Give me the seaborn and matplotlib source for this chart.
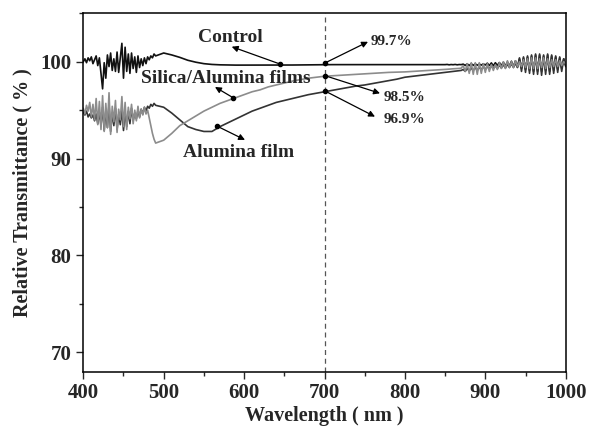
import numpy as np
import pandas as pd
import matplotlib
matplotlib.use("Agg")
import matplotlib.pyplot as plt
import seaborn as sns
from matplotlib.ticker import MultipleLocator

# wavelength grid (nm): noisy part, smooth part, fringe part
wl_noise = np.arange(400, 491, 2)
wl_mid = np.arange(500, 841, 10)
wl_fringe = np.arange(850, 1000.1, 2.5)

control_noise = [100.0, 100.3, 99.9, 100.4, 100.1, 100.5, 99.8, 100.2, 100.6, 99.6,
                 100.4, 98.8, 97.2, 99.9, 98.3, 100.7, 99.5, 100.9, 99.1, 100.3,
                 99.0, 101.0, 98.9, 100.4, 101.9, 98.3, 101.5, 99.0, 100.8, 98.8,
                 100.9, 99.3, 100.5, 98.9, 100.6, 99.4, 100.3, 99.6, 100.4, 99.8,
                 100.5, 100.2, 100.6, 100.4, 100.8, 100.6]
control_mid = [100.9, 100.7, 100.45, 100.15, 99.95, 99.8, 99.72, 99.68, 99.66, 99.65,
               99.65, 99.65, 99.65, 99.65, 99.65, 99.66, 99.66, 99.67, 99.68, 99.69,
               99.7, 99.7, 99.7, 99.7, 99.7, 99.7, 99.7, 99.7, 99.7, 99.7,
               99.7, 99.7, 99.7, 99.7, 99.7]
control_fringe = [99.70, 99.72, 99.68, 99.71, 99.69, 99.72, 99.68, 99.71, 99.70,
                  99.75, 99.62, 99.78, 99.60, 99.80, 99.62, 99.78, 99.64, 99.76, 99.65, 99.78, 99.66,
                  99.85, 99.60, 99.88, 99.58, 99.90, 99.62, 99.92, 99.60, 99.95, 99.55, 99.98, 99.55,
                  100.05, 99.50, 100.10, 99.45,
                  100.3, 99.3, 100.4, 99.2, 100.5, 99.1, 100.6, 99.0, 100.7, 99.0, 100.7, 99.0,
                  100.6, 99.1, 100.7, 99.0, 100.6, 99.1, 100.5, 99.2, 100.4, 99.3, 100.3, 99.6]

silica_noise = [95.2, 94.6, 95.5, 94.9, 95.8, 94.3, 95.6, 94.0, 96.2, 93.5,
                95.9, 93.0, 96.5, 92.8, 95.7, 93.2, 96.8, 92.5, 95.4, 93.8,
                96.0, 92.7, 95.1, 94.0, 96.4, 93.3, 95.8, 93.0, 95.3, 94.1,
                95.6, 93.6, 95.0, 93.9, 95.4, 94.2, 95.1, 94.5, 95.3, 94.6,
                95.0, 94.2, 93.4, 92.6, 92.0, 91.6]
silica_mid = [91.9, 92.6, 93.4, 93.9, 94.4, 94.9, 95.3, 95.7, 96.0, 96.3,
              96.6, 96.9, 97.1, 97.4, 97.6, 97.8, 98.0, 98.15, 98.3, 98.4,
              98.5, 98.55, 98.6, 98.65, 98.7, 98.75, 98.8, 98.85, 98.9, 98.92,
              98.95, 99.0, 99.05, 99.1, 99.15]
silica_fringe = [99.20, 99.22, 99.24, 99.25, 99.27, 99.28, 99.30, 99.31, 99.33,
                 99.6, 99.0, 99.8, 98.8, 99.9, 98.7, 99.9, 98.7, 99.9, 98.8, 99.8, 98.9,
                 99.8, 99.0, 99.7, 99.1, 99.7, 99.2,
                 99.9, 99.3, 100.0, 99.3, 100.1, 99.4, 100.0, 99.4, 100.1, 99.5, 100.0, 99.5,
                 100.2, 99.4, 100.3, 99.3, 100.4, 99.3, 100.4, 99.3, 100.3, 99.4, 100.4, 99.3,
                 100.3, 99.4, 100.2, 99.5, 100.2, 99.5, 100.1, 99.6, 100.0, 99.8]

alumina_noise = [94.8, 94.5, 94.9, 94.3, 94.6, 94.2, 94.5, 93.9, 94.6, 93.6,
                 94.8, 93.4, 95.3, 92.9, 94.9, 93.2, 95.6, 92.8, 94.7, 93.4,
                 95.2, 93.0, 94.6, 93.5, 95.0, 92.9, 94.8, 93.3, 94.9, 93.6,
                 95.2, 93.9, 94.7, 94.1, 95.0, 94.3, 95.1, 94.6, 95.3, 94.9,
                 95.4, 95.2, 95.6, 95.4, 95.7, 95.5]
alumina_mid = [95.3, 94.7, 94.0, 93.3, 93.0, 92.8, 92.8, 93.3, 93.7, 94.1,
               94.5, 94.9, 95.2, 95.5, 95.8, 96.0, 96.2, 96.4, 96.6, 96.75,
               96.9, 97.05, 97.2, 97.35, 97.5, 97.6, 97.75, 97.9, 98.05, 98.2,
               98.4, 98.5, 98.6, 98.7, 98.8]
alumina_fringe = [98.90, 98.92, 98.95, 98.97, 99.00, 99.02, 99.05, 99.07, 99.10,
                  99.20, 99.00, 99.30, 99.05, 99.35, 99.10, 99.40, 99.10, 99.45, 99.15,
                  99.50, 99.20, 99.50, 99.25, 99.55, 99.30, 99.60, 99.30, 99.65, 99.35,
                  99.70, 99.35, 99.75, 99.40, 99.80, 99.40, 99.85, 99.40,
                  100.4, 99.0, 100.5, 98.9, 100.6, 98.8, 100.7, 98.7, 100.8, 98.7, 100.8, 98.6,
                  100.7, 98.7, 100.8, 98.7, 100.7, 98.8, 100.6, 98.9, 100.5, 99.0, 100.3, 99.5]

wavelength = np.concatenate([wl_noise, wl_mid, wl_fringe])
series = {
    "Control": (control_noise + control_mid + control_fringe, "#111111"),
    "Alumina film": (alumina_noise + alumina_mid + alumina_fringe, "#333333"),
    "Silica/Alumina films": (silica_noise + silica_mid + silica_fringe, "#8c8c8c"),
}

# labels: (text, text pos, arrow tail on curve, arrow head, font size)
labels = [
    ("Control", (583, 102.45), (644.7, 99.76), (584.6, 101.55), 14),
    ("Silica/Alumina films", (577.5, 98.3), (586.2, 96.29), (563.8, 97.39), 14),
    ("Alumina film", (593, 90.6), (565.9, 93.37), (601.1, 91.93), 14),
    ("99.7%", (783, 102.05), (700.6, 99.87), (754.1, 102.06), 11),
    ("98.5%", (799, 96.35), (700.6, 98.56), (769.0, 96.74), 11),
    ("96.9%", (799, 94.0), (700.6, 96.98), (762.8, 94.33), 11),
]

sns.set_style("ticks")
plt.rcParams["font.family"] = ["Liberation Serif", "DejaVu Serif"]
plt.rcParams["font.weight"] = "bold"

fig = plt.figure(figsize=(5.92, 4.33), dpi=100)
ax = fig.add_axes([0.1407, 0.1416, 0.8149, 0.8277])

for name, (vals, col) in series.items():
    df = pd.DataFrame({"wl": wavelength, "T": vals})
    sns.lineplot(data=df, x="wl", y="T", ax=ax, color=col, lw=1.2,
                 sort=False, estimator=None)

ax.axvline(700, color="#555555", ls=(0, (4, 3)), lw=0.9)

for text, tpos, tail, head, fs in labels:
    ax.text(tpos[0], tpos[1], text, ha="center", va="center",
            fontsize=fs, fontweight="bold")
    ax.annotate("", xy=head, xytext=tail,
                arrowprops=dict(arrowstyle="-|>", color="black", lw=0.9,
                                mutation_scale=9, shrinkA=0, shrinkB=0))
    ax.plot(*tail, "o", color="black", ms=3)

ax.set_xlim(400, 1000)
ax.set_ylim(68, 105)
ax.xaxis.set_major_locator(MultipleLocator(100))
ax.xaxis.set_minor_locator(MultipleLocator(50))
ax.yaxis.set_major_locator(MultipleLocator(10))
ax.yaxis.set_minor_locator(MultipleLocator(5))
ax.set_yticks([70, 80, 90, 100])
ax.tick_params(which="major", direction="out", length=5, width=1, labelsize=15)
ax.tick_params(which="minor", direction="out", length=3, width=1)
for lab in ax.get_xticklabels() + ax.get_yticklabels():
    lab.set_fontweight("bold")
for sp in ax.spines.values():
    sp.set_linewidth(1.1)
    sp.set_color("black")

ax.set_xlabel("Wavelength ( nm )", fontsize=14.5, fontweight="bold", labelpad=2)
ax.set_ylabel("Relative Transmittance ( % )", fontsize=14.5, fontweight="bold", labelpad=6)

fig.savefig("out.png", dpi=100)
